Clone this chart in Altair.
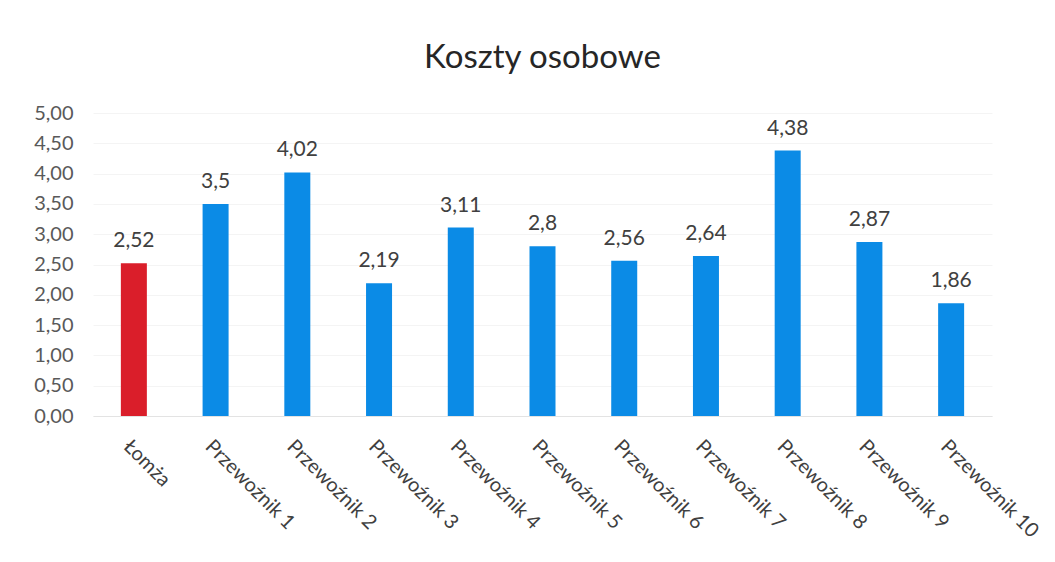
import altair as alt
import pandas as pd

categories = ["Łomża", "Przewoźnik 1", "Przewoźnik 2", "Przewoźnik 3", "Przewoźnik 4",
              "Przewoźnik 5", "Przewoźnik 6", "Przewoźnik 7", "Przewoźnik 8",
              "Przewoźnik 9", "Przewoźnik 10"]
values = [2.52, 3.5, 4.02, 2.19, 3.11, 2.8, 2.56, 2.64, 4.38, 2.87, 1.86]
labels = ["2,52", "3,5", "4,02", "2,19", "3,11", "2,8", "2,56", "2,64", "4,38", "2,87", "1,86"]
groups = ["Łomża"] + ["Przewoźnik"] * 10
y_ticks = [0.0, 0.5, 1.0, 1.5, 2.0, 2.5, 3.0, 3.5, 4.0, 4.5, 5.0]

df = pd.DataFrame({"kat": categories, "wartosc": values, "etykieta": labels, "grupa": groups})

FONT = "Lato"

x = alt.X("kat:N", sort=categories, title=None,
          scale=alt.Scale(paddingInner=0.68, paddingOuter=0.34),
          axis=alt.Axis(labelAngle=45, labelAlign="left", labelBaseline="top",
                        labelPadding=20, ticks=False, domain=True, domainColor="#e3e3e3",
                        labelFontSize=20, labelColor="#404040", labelFont=FONT,
                        labelOverlap=False))
y = alt.Y("wartosc:Q", title=None,
          scale=alt.Scale(domain=[0, 5], nice=False),
          axis=alt.Axis(values=y_ticks, domain=False, ticks=False, grid=True,
                        gridColor="#f4f4f4", labelPadding=20, labelOverlap=False,
                        labelExpr="replace(format(datum.value, '.2f'), '.', ',')",
                        labelFontSize=20, labelColor="#595959", labelFont=FONT))

base = alt.Chart(df).encode(x=x, y=y)

bars = base.mark_bar(size=26).encode(
    color=alt.Color("grupa:N", legend=None,
                    scale=alt.Scale(domain=["Łomża", "Przewoźnik"], range=["#DA1E2A", "#0B8BE6"]))
)

text = base.mark_text(dy=-12, baseline="bottom", fontSize=21, color="#404040", font=FONT).encode(
    text="etykieta:N"
)

chart = (bars + text).properties(
    width=899, height=303,
    autosize=alt.AutoSizeParams(type="none"),
    padding={"left": 85, "top": 105, "right": 55, "bottom": 138},
    title=alt.TitleParams("Koszty osobowe", fontSize=33, font=FONT, fontWeight="normal",
                          color="#262626", anchor="middle", offset=28),
).configure(background="white").configure_view(stroke=None, strokeWidth=0)

chart.save("out.html", embed_options={"renderer": "svg", "actions": False})
